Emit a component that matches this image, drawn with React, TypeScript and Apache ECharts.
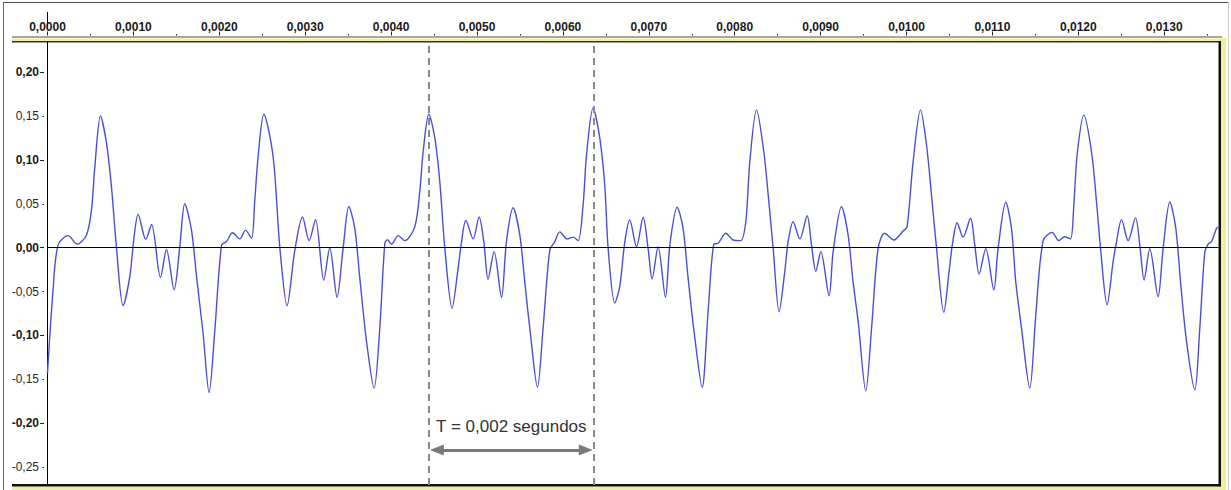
import React, { useEffect, useRef } from "react";
import * as echarts from "echarts";

// Waveform samples: time in milliseconds, amplitude in linear units
const timeMs = [
  0, 0.065, 0.123, 0.240, 0.345, 0.454, 0.512, 0.551, 0.617, 0.687,
  0.745, 0.803, 0.880, 0.958, 1.008, 1.055, 1.144, 1.211, 1.315, 1.385,
  1.474, 1.540, 1.598, 1.676, 1.735, 1.811, 1.881, 1.948, 2.026, 2.084,
  2.154, 2.239, 2.305, 2.375, 2.413, 2.452, 2.518, 2.626, 2.704, 2.789,
  2.879, 2.969, 3.045, 3.120, 3.216, 3.286, 3.371, 3.441, 3.508, 3.577,
  3.636, 3.714, 3.802, 3.868, 3.927, 3.958, 4.005, 4.082, 4.160, 4.276,
  4.334, 4.373, 4.439, 4.509, 4.567, 4.625, 4.710, 4.780, 4.820, 4.870,
  4.955, 5.024, 5.079, 5.129, 5.199, 5.285, 5.343, 5.420, 5.498, 5.556,
  5.615, 5.704, 5.769, 5.847, 5.906, 5.964, 6.049, 6.119, 6.177, 6.235,
  6.275, 6.351, 6.429, 6.488, 6.526, 6.604, 6.662, 6.721, 6.779, 6.857,
  6.934, 6.992, 7.038, 7.108, 7.194, 7.245, 7.330, 7.399, 7.458, 7.536,
  7.621, 7.690, 7.757, 7.807, 7.896, 7.981, 8.068, 8.129, 8.176, 8.254,
  8.339, 8.401, 8.447, 8.517, 8.583, 8.622, 8.680, 8.758, 8.843, 8.894,
  8.944, 9.002, 9.099, 9.146, 9.243, 9.320, 9.378, 9.437, 9.526, 9.593,
  9.669, 9.747, 9.852, 9.960, 10.007, 10.077, 10.163, 10.233, 10.291, 10.349,
  10.434, 10.496, 10.536, 10.589, 10.659, 10.745, 10.795, 10.845, 10.923, 11.016,
  11.066, 11.156, 11.222, 11.272, 11.339, 11.435, 11.505, 11.590, 11.695, 11.773,
  11.843, 11.909, 11.948, 11.986, 12.064, 12.154, 12.212, 12.258, 12.335, 12.405,
  12.445, 12.503, 12.580, 12.666, 12.716, 12.766, 12.832, 12.929, 12.987, 13.065,
  13.135, 13.190, 13.260, 13.356, 13.414, 13.473, 13.511, 13.551, 13.609, 13.632,
];

const amplitude = [
  -0.143, -0.048, 0.003, 0.0137, 0.004, 0.0145, 0.043, 0.092, 0.150, 0.119,
  0.069, 0.0, -0.066, -0.033, 0.0125, 0.038, 0.0095, 0.0266, -0.034, -0.002,
  -0.048, 0.001, 0.050, 0.020, -0.033, -0.0975, -0.165, -0.094, 0.003, 0.007,
  0.017, 0.010, 0.020, 0.0107, 0.054, 0.104, 0.152, 0.104, 0.001, -0.066,
  -0.003, 0.035, 0.008, 0.032, -0.037, 0.0, -0.0565, -0.001, 0.047, 0.022,
  -0.035, -0.107, -0.160, -0.092, 0.005, 0.009, 0.004, 0.0137, 0.008, 0.024,
  0.064, 0.109, 0.152, 0.125, 0.075, 0.0, -0.069, -0.0235, 0.007, 0.031,
  0.010, 0.035, 0.007, -0.036, -0.0045, -0.0565, 0.007, 0.0455, 0.0145, -0.039,
  -0.092, -0.159, -0.092, -0.003, 0.007, 0.018, 0.010, 0.012, 0.008, 0.0486,
  0.1056, 0.159, 0.125, 0.070, 0.0, -0.063, -0.044, 0.007, 0.0315, 0.001,
  0.0346, -0.001, -0.0356, 0.001, -0.0565, 0.003, 0.046, 0.022, -0.035, -0.103,
  -0.159, -0.073, 0.004, 0.005, 0.0164, 0.0088, 0.008, 0.0296, 0.098, 0.157,
  0.109, 0.0486, 0.0, -0.073, -0.027, 0.007, 0.0296, 0.010, 0.0364, 0.003,
  -0.027, -0.0045, -0.0547, -0.0045, 0.0467, 0.0145, -0.039, -0.084, -0.163, -0.092,
  -0.001, 0.0164, 0.0088, 0.019, 0.024, 0.098, 0.157, 0.117, 0.060, 0.0,
  -0.0736, -0.027, 0.005, 0.0285, 0.012, 0.0335, 0.003, -0.030, -0.001, -0.048,
  -0.001, 0.0517, 0.022, -0.039, -0.092, -0.160, -0.0767, 0.008, 0.0175, 0.008,
  0.0125, 0.010, 0.0486, 0.1056, 0.151, 0.109, 0.052, 0.0, -0.065, -0.016,
  0.007, 0.032, 0.008, 0.034, 0.003, -0.0368, -0.001, -0.0558, -0.001, 0.052,
  0.022, -0.039, -0.107, -0.162, -0.092, -0.0045, 0.004, 0.007, 0.022, 0.0235,
];

const xTickValues = [0, 0.001, 0.002, 0.003, 0.004, 0.005, 0.006, 0.007, 0.008, 0.009, 0.01, 0.011, 0.012, 0.013];
const xMinorTickValues = [0.0005, 0.0015, 0.0025, 0.0035, 0.0045, 0.0055, 0.0065, 0.0075, 0.0085, 0.0095, 0.0105, 0.0115, 0.0125, 0.0135];
const yMajorValues = [-0.2, -0.1, 0, 0.1, 0.2];
const yMinorValues = [-0.25, -0.15, -0.05, 0.05, 0.15];
const yLabelValues = [-0.25, -0.2, -0.15, -0.1, -0.05, 0, 0.05, 0.1, 0.15, 0.2];

const X_MIN = 0;
const X_MAX = 0.013632;
const Y_MIN = -0.2703;
const Y_MAX = 0.2343;

// Annotation: period markers (s) and the double arrow between them
const periodStart = 0.00444;
const periodEnd = 0.00636;
const arrowFrom = 0.004532;
const arrowTo = 0.006267;
const arrowLevel = -0.2304;
const periodLabel = "T = 0,002 segundos";

const FONT = "'Liberation Sans', Arial, sans-serif";

export default function App() {
  const ref = useRef<HTMLDivElement>(null);

  useEffect(() => {
    if (!ref.current) return;
    const chart = echarts.init(ref.current, undefined, { renderer: "svg" });
    const data = timeMs.map((t, i) => [t / 1000, amplitude[i]]);

    const dashStyle = { color: "#8a8a8a", width: 2, type: [7, 5] as any };
    const noLine = { show: false, onZero: false };

    const option: any = {
      animation: false,
      backgroundColor: "#ffffff",
      grid: { left: 47.5, right: 12.5, top: 42, bottom: 5, outerBoundsMode: "none" },
      xAxis: [
        {
          type: "value",
          position: "top",
          min: X_MIN,
          max: X_MAX,
          offset: 6.5,
          axisLine: noLine,
          splitLine: { show: false },
          axisTick: { show: true, customValues: xTickValues, length: 4, lineStyle: { color: "#222", width: 1 } },
          axisLabel: {
            show: true,
            customValues: xTickValues,
            margin: 3,
            fontSize: 12,
            fontWeight: "bold",
            fontFamily: FONT,
            color: "#1a1a1a",
            formatter: (v: number) => v.toFixed(4).replace(".", ","),
          },
        },
        {
          type: "value",
          position: "top",
          min: X_MIN,
          max: X_MAX,
          offset: 6.5,
          axisLine: noLine,
          splitLine: { show: false },
          axisLabel: { show: false },
          axisTick: { show: true, customValues: xMinorTickValues, length: 1.5, lineStyle: { color: "#222", width: 1 } },
        },
      ],
      yAxis: [
        {
          type: "value",
          position: "left",
          min: Y_MIN,
          max: Y_MAX,
          axisLine: { show: true, onZero: false, lineStyle: { color: "#000", width: 1 } },
          axisTick: { show: false },
          axisLabel: { show: false },
          splitLine: { show: false },
        },
        {
          type: "value",
          position: "left",
          min: Y_MIN,
          max: Y_MAX,
          offset: 3.5,
          axisLine: noLine,
          splitLine: { show: false },
          axisTick: { show: true, customValues: yMajorValues, length: 4, lineStyle: { color: "#222", width: 1 } },
          axisLabel: {
            show: true,
            customValues: yLabelValues,
            margin: 5,
            fontFamily: FONT,
            fontSize: 12,
            formatter: (v: number) => {
              const s = v.toFixed(2).replace(".", ",");
              const major = Math.round(Math.abs(v) * 100) % 10 === 0;
              return major ? `{b|${s}}` : `{n|${s}}`;
            },
            rich: {
              b: { fontWeight: "bold", fontSize: 12, fontFamily: FONT, color: "#1a1a1a" },
              n: { fontWeight: "normal", fontSize: 12, fontFamily: FONT, color: "#2a2a2a" },
            },
          },
        },
        {
          type: "value",
          position: "left",
          min: Y_MIN,
          max: Y_MAX,
          offset: 3.5,
          axisLine: noLine,
          splitLine: { show: false },
          axisLabel: { show: false },
          axisTick: { show: true, customValues: yMinorValues, length: 1.5, lineStyle: { color: "#222", width: 1 } },
        },
      ],
      series: [
        {
          type: "line",
          xAxisIndex: 0,
          yAxisIndex: 0,
          data,
          showSymbol: false,
          symbol: "none",
          smooth: 0.3,
          lineStyle: { color: "#4d4dd8", width: 1.4 },
          silent: true,
          markLine: {
            silent: true,
            symbol: ["none", "none"],
            label: { show: false },
            data: [
              [
                { coord: [X_MIN, 0], lineStyle: { color: "#000", width: 1, type: "solid" } },
                { coord: [X_MAX, 0] },
              ],
              [
                { coord: [periodStart, Y_MIN], lineStyle: dashStyle },
                { coord: [periodStart, Y_MAX] },
              ],
              [
                { coord: [periodEnd, Y_MIN], lineStyle: dashStyle },
                { coord: [periodEnd, Y_MAX] },
              ],
              [
                {
                  coord: [arrowFrom, arrowLevel],
                  symbol: "triangle",
                  symbolSize: [11, 14],
                  lineStyle: { color: "#7a7a7a", width: 3, type: "solid" },
                  label: {
                    show: true,
                    position: "middle",
                    formatter: periodLabel,
                    fontFamily: FONT,
                    fontSize: 17,
                    color: "#333",
                    distance: 15,
                  },
                },
                { coord: [arrowTo, arrowLevel], symbol: "triangle", symbolSize: [11, 14] },
              ],
            ],
          },
        },
      ],
      graphic: [
        { type: "rect", silent: true, shape: { x: 3, y: 2, width: 1226, height: 1 }, style: { fill: "#4a4a4a" } },
        { type: "rect", silent: true, shape: { x: 3, y: 2, width: 1, height: 488 }, style: { fill: "#6a6a6a" } },
        { type: "rect", silent: true, shape: { x: 1228, y: 2, width: 1, height: 488 }, style: { fill: "#c8c8c8" } },
        { type: "rect", silent: true, shape: { x: 12, y: 36.5, width: 1210, height: 1 }, style: { fill: "#505050" } },
        { type: "rect", silent: true, shape: { x: 12, y: 38.5, width: 1215, height: 2.5 }, style: { fill: "#f0f09a" } },
        { type: "rect", silent: true, shape: { x: 12, y: 41, width: 1209, height: 1.5 }, style: { fill: "#333" } },
        { type: "rect", silent: true, shape: { x: 1221, y: 38.5, width: 5, height: 451.5 }, style: { fill: "#f0f09a" } },
        { type: "rect", silent: true, shape: { x: 1218.5, y: 41, width: 2.5, height: 445.5 }, style: { fill: "#111" } },
        { type: "rect", silent: true, shape: { x: 12, y: 486.5, width: 1214, height: 3.5 }, style: { fill: "#f0f09a" } },
        { type: "rect", silent: true, shape: { x: 12, y: 484, width: 1209, height: 2.5 }, style: { fill: "#111" } },
        { type: "rect", silent: true, shape: { x: 47, y: 12, width: 1, height: 16 }, style: { fill: "#000" } },
      ],
    };

    chart.setOption(option);
    return () => chart.dispose();
  }, []);

  return (
    <div
      ref={ref}
      style={{ position: "fixed", left: 0, top: 0, width: 1231, height: 490, background: "#fff" }}
    />
  );
}
